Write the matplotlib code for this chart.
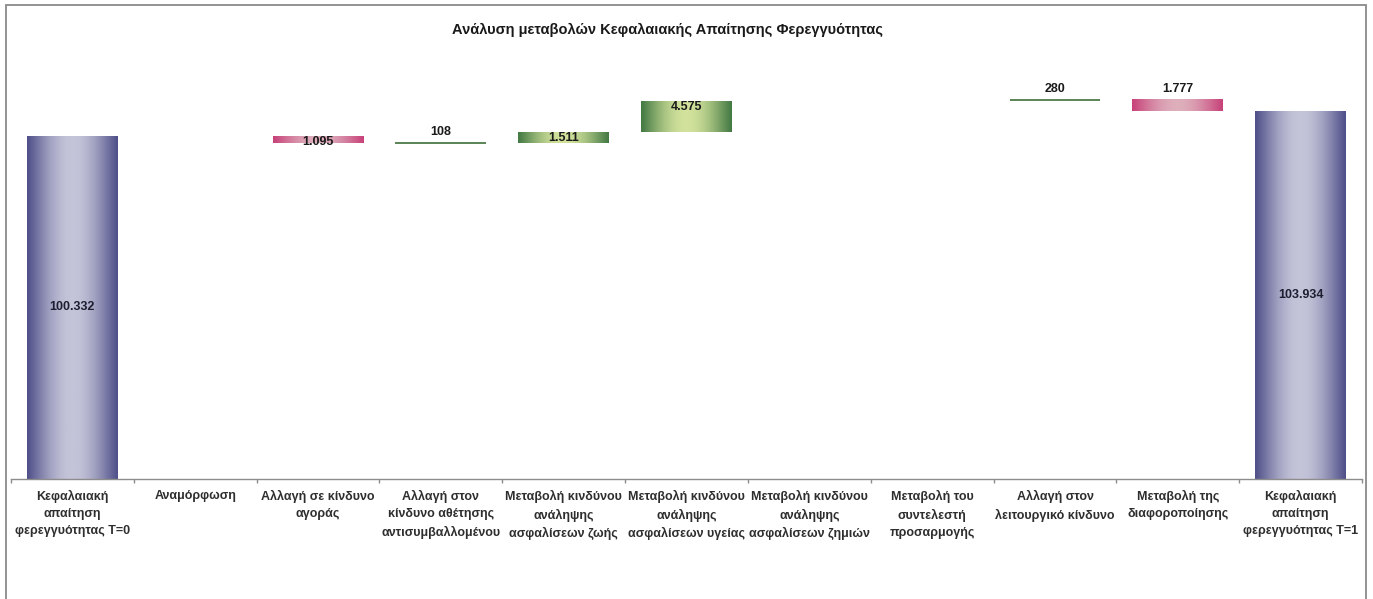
import numpy as np
import matplotlib
matplotlib.use("Agg")
import matplotlib.pyplot as plt
from matplotlib.colors import LinearSegmentedColormap
from matplotlib.patches import Rectangle

plt.rcParams['font.family'] = ['Liberation Sans', 'DejaVu Sans']

# data (in millions, shown with '.' as thousands separator)
categories = [
    "Κεφαλαιακή\nαπαίτηση\nφερεγγυότητας T=0",
    "Αναμόρφωση",
    "Αλλαγή σε κίνδυνο\nαγοράς",
    "Αλλαγή στον\nκίνδυνο αθέτησης\nαντισυμβαλλομένου",
    "Μεταβολή κινδύνου\nανάληψης\nασφαλίσεων ζωής",
    "Μεταβολή κινδύνου\nανάληψης\nασφαλίσεων υγείας",
    "Μεταβολή κινδύνου\nανάληψης\nασφαλίσεων ζημιών",
    "Μεταβολή του\nσυντελεστή\nπροσαρμογής",
    "Αλλαγή στον\nλειτουργικό κίνδυνο",
    "Μεταβολή της\nδιαφοροποίησης",
    "Κεφαλαιακή\nαπαίτηση\nφερεγγυότητας T=1",
]
start_value = 100.332
changes = [0.0, -1.095, 0.108, 1.511, 4.575, 0.0, 0.0, 0.280, -1.777]
end_value = 103.934
title = "Ανάλυση μεταβολών Κεφαλαιακής Απαίτησης Φερεγγυότητας"

# where each change label sits relative to its bar
label_place = ["", "in", "above", "in", "in", "", "", "above", "above"]

W, H = 1373, 599
fig = plt.figure(figsize=(W / 100, H / 100), dpi=100)
ax = fig.add_axes([11 / W, (H - 479) / H, (1362 - 11) / W, 409 / H])

cmaps = {
    "total": LinearSegmentedColormap.from_list("total", ["#50508a", "#c4c4d9"]),
    "up": LinearSegmentedColormap.from_list("up", ["#447a44", "#d2e29c"]),
    "down": LinearSegmentedColormap.from_list("down", ["#c8437a", "#deaebb"]),
}
line_colors = {"up": "#4c7a48", "down": "#c8457a"}

t = np.linspace(0, 1, 200)
profile = np.sin(np.pi * t) ** 1.1


def gradient_bar(x, bottom, height, width, cmap):
    rect = ax.bar(x, height, width, bottom=bottom, color="none", edgecolor="none", zorder=2)[0]
    im = ax.imshow(profile.reshape(1, -1), cmap=cmap, vmin=0, vmax=1, aspect="auto",
                   extent=[x - width / 2, x + width / 2, bottom, bottom + height],
                   interpolation="bilinear", zorder=2)
    im.set_clip_path(rect)


def fmt(v):
    return f"{abs(round(v * 1000)):,}".replace(",", ".")


bw = 0.74
n = len(categories)
ymin, ymax = 50, 110

# totals (drawn from the axis floor)
gradient_bar(0, ymin, start_value - ymin, bw, cmaps["total"])
gradient_bar(n - 1, ymin, end_value - ymin, bw, cmaps["total"])
for i, v in [(0, start_value), (n - 1, end_value)]:
    ax.text(i, (ymin + v) / 2, fmt(v), ha="center", va="center", fontsize=9,
            fontweight="bold", color="#1e1e30", zorder=4)

# changes
level = start_value
for k, d in enumerate(changes):
    i = k + 1
    if d == 0:
        continue
    kind = "up" if d > 0 else "down"
    if abs(d) < 0.3:
        ax.plot([i - bw / 2, i + bw / 2], [level + d / 2] * 2, color=line_colors[kind],
                lw=1.3, solid_capstyle="butt", zorder=3)
    else:
        gradient_bar(i, level, d, bw, cmaps[kind])
    top = max(level, level + d)
    if label_place[k] == "in":
        ax.annotate(fmt(d), (i, top), xytext=(0, 0), textcoords="offset points",
                    ha="center", va="top", fontsize=9, fontweight="bold", color="#1a1a1a", zorder=4)
    else:
        ax.annotate(fmt(d), (i, top), xytext=(0, 3), textcoords="offset points",
                    ha="center", va="bottom", fontsize=9, fontweight="bold", color="#1a1a1a", zorder=4)
    level += d

ax.set_xlim(-0.5, n - 0.5)
ax.set_ylim(ymin, ymax)
for s in ["top", "left", "right"]:
    ax.spines[s].set_visible(False)
ax.spines["bottom"].set_color("#8c8c8c")
ax.spines["bottom"].set_linewidth(1.0)
ax.set_yticks([])
ax.set_xticks(range(n))
ax.set_xticklabels(categories, fontsize=9, fontweight="bold", color="#2e2e2e", linespacing=1.55)
ax.set_xticks(np.arange(n + 1) - 0.5, minor=True)
ax.tick_params(axis="x", which="major", length=0, pad=8)
ax.tick_params(axis="x", which="minor", length=3, color="#8c8c8c", width=1.0)
ax.patch.set_alpha(0)

fig.text(668 / W, 1 - 30 / H, title, ha="center", va="center", fontsize=10.5,
         fontweight="bold", color="#1a1a1a")

fig.add_artist(Rectangle((5.5 / W, -0.02), (1366 - 5.5) / W, 1.02 - 4.5 / H,
                         transform=fig.transFigure, fill=False, edgecolor="#8a8a8a", lw=1.3))

fig.savefig("out.png", dpi=100, facecolor="white")
